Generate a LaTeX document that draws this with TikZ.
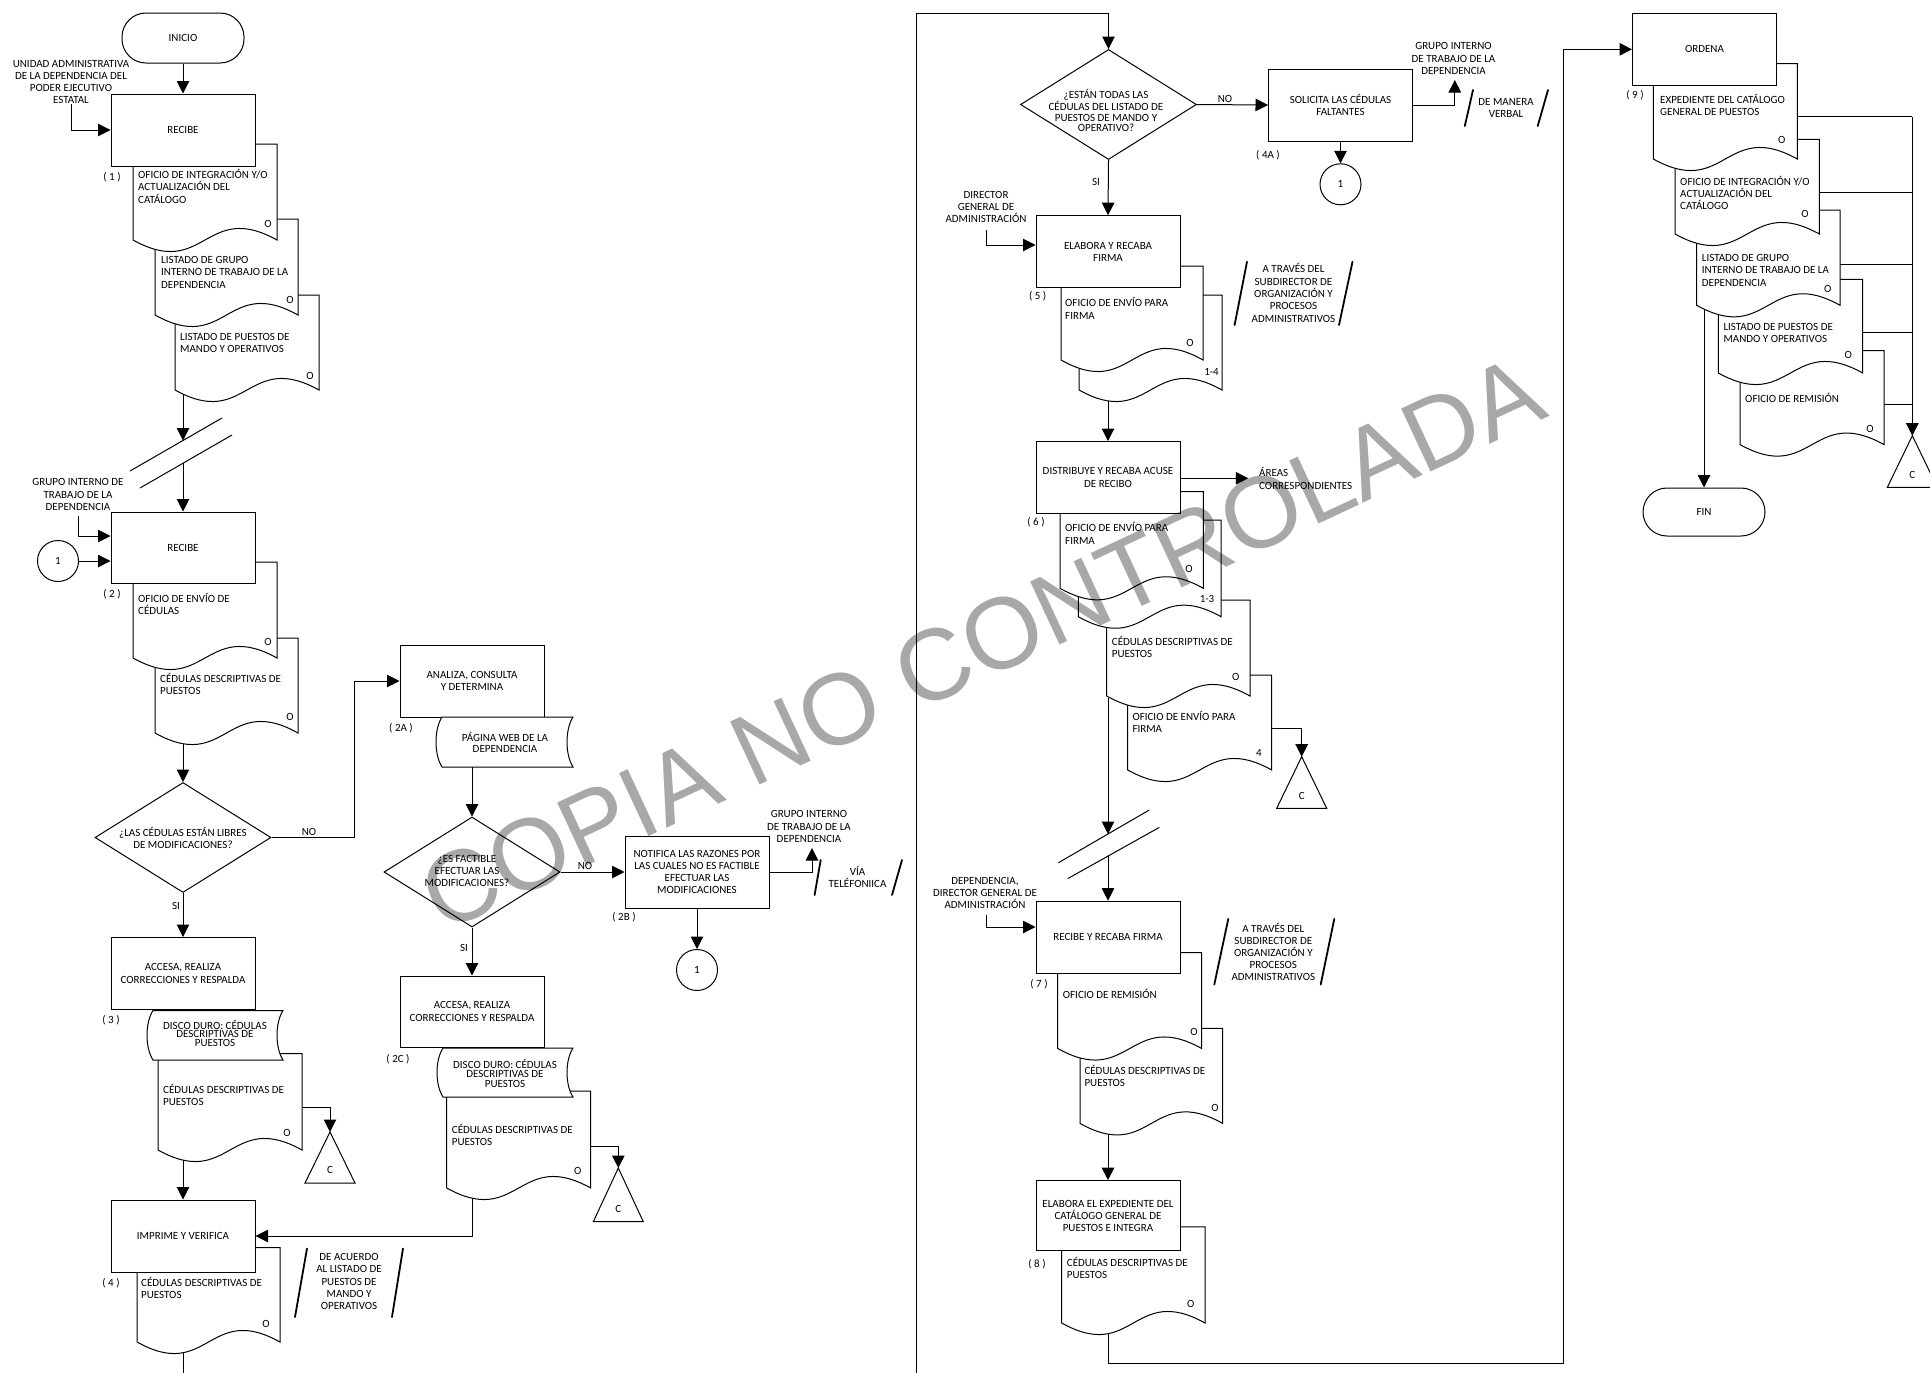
\documentclass[tikz,border=0pt]{standalone}
\usepackage{fontspec}
\setmainfont{Carlito}
\newfontfamily\wmfamily{Liberation Sans}
\usetikzlibrary{arrows.meta,shapes.geometric,calc}
\pgfdeclarelayer{bg}
\pgfdeclarelayer{lines}
\pgfdeclarelayer{wmark}
\pgfsetlayers{bg,lines,main,wmark}
\definecolor{wmgray}{RGB}{168,168,168}
\newcommand{\mydoc}[4]{\path[shp] (#1,#3) -- (#2,#3) -- (#2,#4) .. controls ({(#1+#2)/2},{#4-40}) and ({(#1+#2)/2},{#4+40}) .. (#1,#4) -- cycle;}
\newcommand{\mysd}[4]{\path[shp] (#1,#3) -- (#2,#3) .. controls ({#2-8},{#3+(#4-#3)/4}) and ({#2-8},{#3+3*(#4-#3)/4}) .. (#2,#4) -- (#1,#4) .. controls ({#1-8},{#3+3*(#4-#3)/4}) and ({#1-8},{#3+(#4-#3)/4}) .. cycle;}
\newcommand{\mytri}[3]{\path[shp] (#1,#2) -- ({#1+25},#3) -- ({#1-25},#3) -- cycle;}
\begin{document}
\begin{tikzpicture}[x=1pt,y=-1pt,
 fs/.style={font=\fontsize{11}{12.3}\selectfont},
 ln/.style={line width=1pt, draw=black},
 arr/.style={ln, -{Triangle[length=12.5pt,width=12.5pt]}},
 shp/.style={line width=1pt, draw=black, fill=white},
 box/.style={shp, rectangle, minimum width=144pt, minimum height=72pt, inner sep=2pt, align=center, fs},
 term/.style={shp, rectangle, rounded corners=24pt, minimum width=122pt, minimum height=50pt, fs},
 dia/.style={shp, diamond, minimum width=176pt, minimum height=110pt, inner sep=0pt},
 circ/.style={shp, circle, minimum size=41pt, inner sep=0pt, fs},
 txt/.style={fs, inner sep=0pt, align=center},
 ltxt/.style={fs, inner sep=0pt, align=left, anchor=west},
 slash/.style={line width=1.8pt, line cap=round}]
\useasboundingbox (0,0) rectangle (1930,1373);
\begin{pgfonlayer}{bg}
\fill[white] (0,0) rectangle (1930,1373);
\end{pgfonlayer}
\begin{pgfonlayer}{wmark}
\begin{scope}[blend mode=multiply]
\node[rotate=25, text=wmgray, inner sep=0pt, font=\wmfamily\fontsize{101}{101}\selectfont] (wm) at (982,643) {COPIA NO CONTROLADA};
\end{scope}
\end{pgfonlayer}

% ===== column 1 =====
\node[term] (T1) at (183,38) {INICIO};
\node[txt] (L1) at (71,82) {UNIDAD ADMINISTRATIVA\\DE LA DEPENDENCIA DEL\\PODER EJECUTIVO\\ESTATAL};
\mydoc{175}{319}{295}{390}
\node[ltxt] (t1c) at (180,343.2) {LISTADO DE PUESTOS DE\\MANDO Y OPERATIVOS};
\node[txt] (o1c) at (310,376) {O};
\mydoc{155}{298}{219}{315}
\node[ltxt] (t1b) at (161,272.3) {LISTADO DE GRUPO\\INTERNO DE TRABAJO DE LA\\DEPENDENCIA};
\node[txt] (o1b) at (290,300) {O};
\mydoc{133}{277}{144}{240}
\node[ltxt] (t1a) at (138,186.3) {OFICIO DE INTEGRACIÓN Y/O\\ACTUALIZACIÓN DEL\\CATÁLOGO};
\node[txt] (o1a) at (268,224) {O};
\node[box] (B1) at (183,130) {RECIBE};
\node[txt] (n1) at (112,177) {( 1 )};

\draw[ln] (130,471) -- (222,418);
\draw[ln] (140,488) -- (232,435);

\node[txt] (L2) at (78,494.5) {GRUPO INTERNO DE\\TRABAJO DE LA\\DEPENDENCIA};
\node[circ] (K1) at (58,561) {1};
\mydoc{155}{298}{638}{733}
\node[ltxt] (t2b) at (160,684.2) {CÉDULAS DESCRIPTIVAS DE\\PUESTOS};
\node[txt] (o2b) at (290,717) {O};
\mydoc{133}{277}{562}{658}
\node[ltxt] (t2a) at (138,604.2) {OFICIO DE ENVÍO DE\\CÉDULAS};
\node[txt] (o2a) at (268,642) {O};
\node[box,minimum height=71pt] (B2) at (183,547.5) {RECIBE};
\node[txt] (n2) at (112,594) {( 2 )};

\node[dia] (Q1) at (183,837.5) {};
\node[txt] (q1t) at (183,837.8) {¿LAS CÉDULAS ESTÁN LIBRES\\DE MODIFICACIONES?};
\node[txt] (no1) at (309,831.6) {NO};
\node[txt] (si1) at (176,906) {SI};

\mydoc{158}{302}{1053.5}{1150}
\node[ltxt] (t3) at (163,1094.9) {CÉDULAS DESCRIPTIVAS DE\\PUESTOS};
\node[txt] (o3) at (287,1133) {O};
\mysd{153}{283}{1010.5}{1060}
\node[txt,font=\fontsize{11}{8.8}\selectfont] (s3t) at (215,1033.4) {DISCO DURO: CÉDULAS\\DESCRIPTIVAS DE\\PUESTOS};
\node[box] (B3) at (183,973.5) {ACCESA, REALIZA\\CORRECCIONES Y RESPALDA};
\node[txt] (n3) at (111,1020) {( 3 )};
\mytri{330}{1132}{1183}
\coordinate (C3a) at (330,1132);
\node[txt] (c3t) at (330,1170) {C};

\mydoc{137}{280}{1247.5}{1342}
\node[ltxt] (t4) at (141,1288.2) {CÉDULAS DESCRIPTIVAS DE\\PUESTOS};
\node[txt] (o4) at (266,1324) {O};
\node[box] (B4) at (183,1236) {IMPRIME Y VERIFICA};
\node[txt] (n4) at (111,1283) {( 4 )};
\node[txt,font=\fontsize{11}{12.2}\selectfont] (s4t) at (349,1281.5) {DE ACUERDO\\AL LISTADO DE\\PUESTOS DE\\MANDO Y\\OPERATIVOS};
\draw[slash] (295,1317) -- (307,1248.5);
\draw[slash] (392,1317) -- (403,1248.5);

% ===== column 2 =====
\node[box] (A2) at (472,681) {ANALIZA, CONSULTA\\Y DETERMINA};
\node[txt] (n2a) at (401,728) {( 2A )};
\mysd{442}{573}{717}{767}
\node[txt,font=\fontsize{11}{11}\selectfont] (s2at) at (505,742.2) {PÁGINA WEB DE LA\\DEPENDENCIA};
\node[dia] (Q2) at (472,872) {};
\node[txt,font=\fontsize{11}{12}\selectfont] (q2t) at (467,871.2) {¿ES FACTIBLE\\EFECTUAR LAS\\MODIFICACIONES?};
\node[txt] (no2) at (585,866) {NO};
\node[txt] (si2) at (464,948) {SI};
\node[box,font=\fontsize{11}{12}\selectfont] (B2B) at (697,872) {NOTIFICA LAS RAZONES POR\\LAS CUALES NO ES FACTIBLE\\EFECTUAR LAS\\MODIFICACIONES};
\node[txt] (n2b) at (624,917) {( 2B )};
\node[txt] (L2b) at (809,826.7) {GRUPO INTERNO\\DE TRABAJO DE LA\\DEPENDENCIA};
\node[txt] (v2b) at (857.5,877) {VÍA\\TELÉFONIICA};
\draw[slash] (814.6,895) -- (820.7,860);
\draw[slash] (892,895) -- (902,860);
\node[circ] (K2) at (697,970) {1};

\mydoc{446.7}{590.7}{1091}{1188}
\node[ltxt] (t2c) at (451.7,1135) {CÉDULAS DESCRIPTIVAS DE\\PUESTOS};
\node[txt] (o2c) at (577.7,1170.7) {O};
\mysd{443}{573}{1048}{1097}
\node[txt,font=\fontsize{11}{9.3}\selectfont] (s2ct) at (505,1073.3) {DISCO DURO: CÉDULAS\\DESCRIPTIVAS DE\\PUESTOS};
\node[box,minimum height=71pt] (B2C) at (472,1011.5) {ACCESA, REALIZA\\CORRECCIONES Y RESPALDA};
\node[txt] (n2c) at (398,1059) {( 2C )};
\mytri{618.3}{1168}{1221.7}
\coordinate (C2a) at (618.3,1168);
\node[txt] (c2t) at (618.3,1209) {C};

% ===== column 3 =====
\node[dia] (Q3) at (1108.5,104.5) {};
\node[txt,font=\fontsize{11}{10.8}\selectfont] (q3t) at (1106,110.5) {¿ESTÁN TODAS LAS\\CÉDULAS DEL LISTADO DE\\PUESTOS DE MANDO Y\\OPERATIVO?};
\node[txt] (no3) at (1225,98.7) {NO};
\node[txt] (si3) at (1096,181.7) {SI};
\node[box] (B4A) at (1340.5,105) {SOLICITA LAS CÉDULAS\\FALTANTES};
\node[txt] (n4a) at (1268,155) {( 4A )};
\node[circ] (K3) at (1340.5,184.3) {1};
\node[txt] (L4a) at (1453.5,58.7) {GRUPO INTERNO\\DE TRABAJO DE LA\\DEPENDENCIA};
\node[txt,font=\fontsize{11}{11.7}\selectfont] (v4a) at (1506,107.8) {DE MANERA\\VERBAL};
\draw[slash] (1464.8,126) -- (1473,90);
\draw[slash] (1537.7,126) -- (1548,90);

\node[txt] (L5) at (986,206.8) {DIRECTOR\\GENERAL DE\\ADMINISTRACIÓN};
\mydoc{1079}{1222}{295}{390}
\node[txt] (m5b) at (1211.5,371.7) {1-4};
\mydoc{1061}{1203}{266}{360}
\node[ltxt] (t5a) at (1065,308.3) {OFICIO DE ENVÍO PARA\\FIRMA};
\node[txt] (o5a) at (1190,343) {O};
\node[box] (B5) at (1108,251.7) {ELABORA Y RECABA\\FIRMA};
\node[txt] (n5) at (1037.6,296.7) {( 5 )};
\node[txt] (s5t) at (1293.5,293) {A TRAVÉS DEL\\SUBDIRECTOR DE\\ORGANIZACIÓN Y\\PROCESOS\\ADMINISTRATIVOS};
\draw[slash] (1234.6,325) -- (1247,261.7);
\draw[slash] (1339,325) -- (1352.5,261.7);

\mydoc{1127.7}{1271.7}{675}{770}
\node[ltxt] (t6d) at (1132.3,722.2) {OFICIO DE ENVÍO PARA\\FIRMA};
\node[txt] (m6d) at (1259,752.7) {4};
\mydoc{1106.7}{1250}{600}{696}
\node[ltxt] (t6c) at (1111.7,647) {CÉDULAS DESCRIPTIVAS DE\\PUESTOS};
\node[txt] (o6c) at (1235.7,676.7) {O};
\mydoc{1078.3}{1221}{520}{616.7}
\node[txt] (m6b) at (1207,599.3) {1-3};
\mydoc{1060}{1203.3}{491.7}{588.3}
\node[ltxt] (t6a) at (1065,533.5) {OFICIO DE ENVÍO PARA\\FIRMA};
\node[txt] (o6a) at (1189,569.3) {O};
\node[box] (B6) at (1108,477.5) {DISTRIBUYE Y RECABA ACUSE\\DE RECIBO};
\node[txt] (n6) at (1036,522.7) {( 6 )};
\node[ltxt] (L6) at (1259,478.3) {ÁREAS\\CORRESPONDIENTES};
\mytri{1301.7}{756.7}{808.3}
\coordinate (C6a) at (1301.7,756.7);
\node[txt] (c6t) at (1301.7,795.7) {C};

\draw[ln] (1058.3,862.8) -- (1149.3,810);
\draw[ln] (1067.7,878.6) -- (1159.3,827.4);

\node[txt,font=\fontsize{11}{12}\selectfont] (L7) at (985,893) {DEPENDENCIA,\\DIRECTOR GENERAL DE\\ADMINISTRACIÓN};
\mydoc{1080}{1222.7}{1028.4}{1123.4}
\node[ltxt] (t7b) at (1084.3,1075.9) {CÉDULAS DESCRIPTIVAS DE\\PUESTOS};
\node[txt] (o7b) at (1215,1107.7) {O};
\mydoc{1057.7}{1201.7}{952.7}{1048.5}
\node[ltxt] (t7a) at (1062.7,993.7) {OFICIO DE REMISIÓN};
\node[txt] (o7a) at (1194,1032) {O};
\node[box] (B7) at (1108,937.2) {RECIBE Y RECABA FIRMA};
\node[txt] (n7) at (1039,984.5) {( 7 )};
\node[txt,font=\fontsize{11}{12.1}\selectfont] (s7t) at (1273.3,952.2) {A TRAVÉS DEL\\SUBDIRECTOR DE\\ORGANIZACIÓN Y\\PROCESOS\\ADMINISTRATIVOS};
\draw[slash] (1214.3,984.5) -- (1228.3,918.8);
\draw[slash] (1320.7,984.5) -- (1334.3,918.8);

\mydoc{1061.7}{1205}{1226.8}{1323}
\node[ltxt] (t8) at (1066.7,1268.2) {CÉDULAS DESCRIPTIVAS DE\\PUESTOS};
\node[txt] (o8) at (1190.7,1303.5) {O};
\node[box,minimum height=70pt,font=\fontsize{11}{12}\selectfont] (B8) at (1108,1215.6) {ELABORA EL EXPEDIENTE DEL\\CATÁLOGO GENERAL DE\\PUESTOS E INTEGRA};
\node[txt] (n8) at (1037,1264) {( 8 )};

% ===== column 4 =====
\mydoc{1740}{1884}{350.7}{444.6}
\node[ltxt] (t9e) at (1745,398) {OFICIO DE REMISIÓN};
\node[txt] (o9e) at (1870,428.5) {O};
\mydoc{1718.3}{1862.7}{279.3}{373}
\node[ltxt] (t9d) at (1723.3,332.7) {LISTADO DE PUESTOS DE\\MANDO Y OPERATIVOS};
\node[txt] (o9d) at (1848.3,355.3) {O};
\mydoc{1696.7}{1840}{210}{305.3}
\node[ltxt] (t9c) at (1701.7,270.3) {LISTADO DE GRUPO\\INTERNO DE TRABAJO DE LA\\DEPENDENCIA};
\node[txt] (o9c) at (1827.7,288.5) {O};
\mydoc{1675}{1819.3}{139.3}{234}
\node[ltxt] (t9b) at (1680,192.8) {OFICIO DE INTEGRACIÓN Y/O\\ACTUALIZACIÓN DEL\\CATÁLOGO};
\node[txt] (o9b) at (1805,214.3) {O};
\mydoc{1653.3}{1797.3}{63.6}{159}
\node[ltxt] (t9a) at (1660,104.8) {EXPEDIENTE DEL CATÁLOGO\\GENERAL DE PUESTOS};
\node[txt] (o9a) at (1781.7,140) {O};
\node[box] (B9) at (1704.5,49.3) {ORDENA};
\node[txt] (n9) at (1635,95.7) {( 9 )};
\node[term,minimum height=48pt] (FIN) at (1704,512) {FIN};
\mytri{1912.3}{435.7}{487.4}
\coordinate (C9a) at (1912.3,435.7);
\node[txt] (c9t) at (1912.3,475) {C};

% ===== connectors =====
\begin{pgfonlayer}{lines}
\draw[arr] (T1.south) -- (B1.north);
\coordinate (c1) at (71,104);
\draw[arr] (c1) |- (B1.west);
\coordinate (d1c) at (183,392);
\coordinate (brk1) at (183,440.5);
\draw[arr] (d1c) -- (brk1);
\coordinate (brk1b) at (183,463);
\draw[arr] (brk1b) -- (B2.north);
\coordinate (c2) at (78,516);
\draw[arr] (c2) |- ([yshift=11.5pt]B2.west);
\draw[arr] (K1.east) -- (K1.east -| B2.west);
\coordinate (d2b) at (183,736);
\draw[arr] (d2b) -- (Q1.north);
\draw[arr] (Q1.east) -- ++(83,0) |- (A2.west);
\draw[arr] (Q1.south) -- (B3.north);
\coordinate (d3r) at (302,1107.5);
\draw[arr] (d3r) -| (C3a);
\coordinate (d3b) at (183,1153);
\draw[arr] (d3b) -- (B4.north);
\coordinate (d4b) at (183,1346);
\coordinate (off1) at (183,1380);
\draw[ln] (d4b) -- (off1);

\coordinate (s2ab) at (472,767);
\draw[arr] (s2ab) -- (Q2.north);
\draw[arr] (Q2.east) -- (B2B.west);
\coordinate (g2) at (812,848);
\draw[arr] (B2B.east) -| (g2);
\draw[arr] (B2B.south) -- (K2.north);
\draw[arr] (Q2.south) -- (B2C.north);
\coordinate (d2cr) at (590.7,1146);
\draw[arr] (d2cr) -| (C2a);
\coordinate (d2cb) at (472,1195);
\draw[arr] (d2cb) |- (B4.east);

\coordinate (lane0) at (916,1380);
\coordinate (lanetop) at (916,13.3);
\draw[arr] (lane0) -- (lanetop) -| (Q3.north);
\draw[arr] (Q3.east) -- (B4A.west);
\draw[arr] (B4A.south) -- (K3.north);
\coordinate (g4) at (1454.8,80);
\draw[arr] (B4A.east) -| (g4);
\draw[arr] (Q3.south) -- (B5.north);
\coordinate (c5) at (986,230);
\draw[arr] (c5) |- ([yshift=6.7pt]B5.west);
\coordinate (d5b) at (1108,392);
\draw[arr] (d5b) -- (B6.north);
\coordinate (areasp) at (1248.3,478.3);
\draw[arr] (B6.east |- areasp) -- (areasp);
\coordinate (d6dr) at (1271.7,728.3);
\draw[arr] (d6dr) -| (C6a);
\coordinate (d6cb) at (1108,698);
\coordinate (brk2) at (1108,834);
\draw[arr] (d6cb) -- (brk2);
\coordinate (brk2b) at (1108,856);
\draw[arr] (brk2b) -- (B7.north);
\coordinate (c7) at (986,915);
\draw[arr] (c7) |- ([yshift=10.2pt]B7.west);
\coordinate (d7bb) at (1108,1128);
\draw[arr] (d7bb) -- (B8.north);
\coordinate (d8b) at (1108,1328);
\coordinate (loopc) at (1563,1363);
\draw[arr] (d8b) |- (loopc) |- (B9.west);

\coordinate (r9a) at (1797.3,116.8);
\coordinate (r9b) at (1819.3,192.8);
\coordinate (r9c) at (1840,264.3);
\coordinate (r9d) at (1862.7,332.8);
\coordinate (r9e) at (1884,404.2);
\coordinate (j9) at (1912.3,116.8);
\draw[ln] (r9a) -- (j9);
\draw[arr] (j9) -- (C9a);
\draw[ln] (r9b) -- (r9b -| j9);
\draw[ln] (r9c) -- (r9c -| j9);
\draw[ln] (r9d) -- (r9d -| j9);
\draw[ln] (r9e) -- (r9e -| j9);
\coordinate (d9cb) at (1704,306);
\draw[arr] (d9cb) -- (FIN.north);
\end{pgfonlayer}
\end{tikzpicture}
\end{document}
